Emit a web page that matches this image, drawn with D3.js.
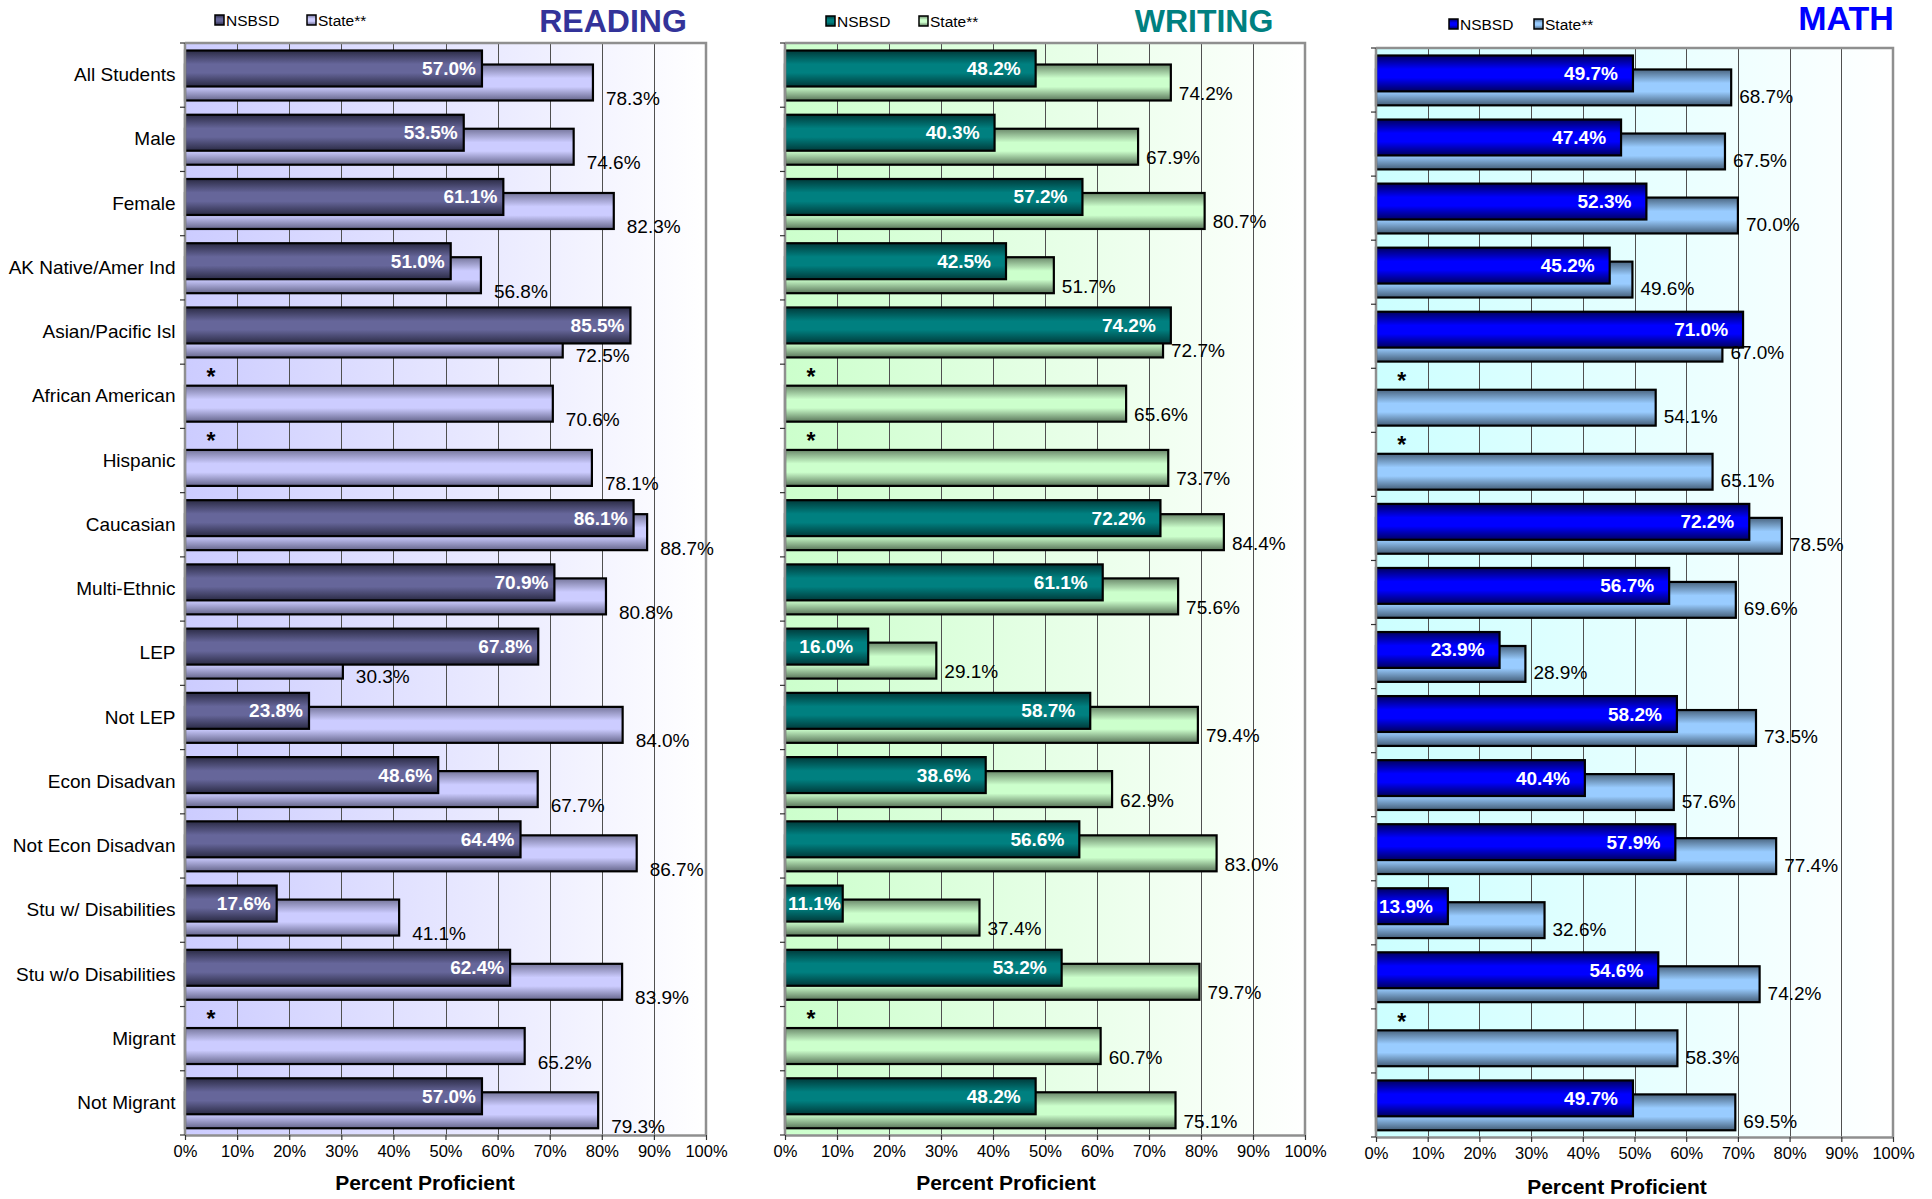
<!DOCTYPE html>
<html><head><meta charset="utf-8">
<script src="https://cdn.jsdelivr.net/npm/d3@7"></script>
<style>
body{margin:0;background:#fff}
svg{display:block}
text{font-family:"Liberation Sans",Arial,sans-serif}
</style>
</head><body>
<svg id="chart" width="1932" height="1199"></svg>
<script>
// ---------------- DATA ----------------
const categories = ["All Students","Male","Female","AK Native/Amer Ind","Asian/Pacific Isl",
  "African American","Hispanic","Caucasian","Multi-Ethnic","LEP","Not LEP","Econ Disadvan",
  "Not Econ Disadvan","Stu w/ Disabilities","Stu w/o Disabilities","Migrant","Not Migrant"];
const seriesNames = ["NSBSD","State**"];
const readingNSBSD = [57.0,53.5,61.1,51.0,85.5,null,null,86.1,70.9,67.8,23.8,48.6,64.4,17.6,62.4,null,57.0];
const readingState = [78.3,74.6,82.3,56.8,72.5,70.6,78.1,88.7,80.8,30.3,84.0,67.7,86.7,41.1,83.9,65.2,79.3];
const writingNSBSD = [48.2,40.3,57.2,42.5,74.2,null,null,72.2,61.1,16.0,58.7,38.6,56.6,11.1,53.2,null,48.2];
const writingState = [74.2,67.9,80.7,51.7,72.7,65.6,73.7,84.4,75.6,29.1,79.4,62.9,83.0,37.4,79.7,60.7,75.1];
const mathNSBSD = [49.7,47.4,52.3,45.2,71.0,null,null,72.2,56.7,23.9,58.2,40.4,57.9,13.9,54.6,null,49.7];
const mathState = [68.7,67.5,70.0,49.6,67.0,54.1,65.1,78.5,69.6,28.9,73.5,57.6,77.4,32.6,74.2,58.3,69.5];
const xTicks = [0,10,20,30,40,50,60,70,80,90,100];
const axisTitle = "Percent Proficient";
const missingMark = "*";

// ---------------- LAYOUT / STYLE ----------------
const panels = [
  {id:"r", title:"READING", titleColor:"#333399", nsbsd:readingNSBSD, state:readingState,
   left:185, right:706, top:43, bottom:1135, showCats:true,
   titleX:613, titleY:21, titleSize:32, legendX:215, legendY:20, legendGap:92,
   axisTitleX:425, axisTitleY:1182,
   bg:"#ccccff", n:["#2b2b45","#66669a","#2b2b45"], s:["#76769c","#ccccff","#66668c"],
   inDx:6, outDx:13, outDy:16},
  {id:"w", title:"WRITING", titleColor:"#008080", nsbsd:writingNSBSD, state:writingState,
   left:785, right:1305, top:43, bottom:1135, showCats:false,
   titleX:1204, titleY:21, titleSize:32, legendX:826, legendY:21, legendGap:93,
   axisTitleX:1006, axisTitleY:1182,
   bg:"#ccffcc", n:["#003a3a","#008080","#003a3a"], s:["#6a886a","#ccffcc","#5a765a"],
   inDx:15, outDx:8, outDy:11},
  {id:"m", title:"MATH", titleColor:"#0000ff", nsbsd:mathNSBSD, state:mathState,
   left:1376, right:1893, top:48, bottom:1137, showCats:false,
   titleX:1846, titleY:18, titleSize:34, legendX:1449, legendY:24, legendGap:85,
   axisTitleX:1617, axisTitleY:1186,
   bg:"#ccffff", n:["#000060","#0000ff","#000060"], s:["#4a6580","#99ccff","#445e78"],
   inDx:15, outDx:8, outDy:9}
];

const svg = d3.select("#chart");
const defs = svg.append("defs");

function vGrad(id, c){
  const g = defs.append("linearGradient").attr("id",id).attr("x1",0).attr("x2",0).attr("y1",0).attr("y2",1);
  [[0,c[0]],[0.38,c[1]],[0.62,c[1]],[1,c[2]]].forEach(([o,col])=>g.append("stop").attr("offset",o).attr("stop-color",col));
}
function hGrad(id, c){
  const g = defs.append("linearGradient").attr("id",id).attr("x1",0).attr("x2",1).attr("y1",0).attr("y2",0);
  g.append("stop").attr("offset",0).attr("stop-color",c);
  g.append("stop").attr("offset",1).attr("stop-color","#ffffff");
}

panels.forEach(p=>{
  vGrad(p.id+"n", p.n); vGrad(p.id+"s", p.s); hGrad(p.id+"bg", p.bg);

  const x = d3.scaleLinear().domain([0,100]).range([p.left,p.right]);
  const y = d3.scaleBand().domain(categories).range([p.top,p.bottom]).padding(0);
  const bw = y.bandwidth();
  const g = svg.append("g");

  // plot background
  g.append("rect").attr("x",p.left).attr("y",p.top).attr("width",p.right-p.left).attr("height",p.bottom-p.top)
    .attr("fill",`url(#${p.id}bg)`);

  // gridlines
  g.append("g").selectAll("line").data(xTicks.filter(t=>t>0&&t<100)).join("line")
    .attr("x1",d=>Math.round(x(d))+0.5).attr("x2",d=>Math.round(x(d))+0.5)
    .attr("y1",p.top).attr("y2",p.bottom).attr("stroke","#505050").attr("stroke-width",1);

  // plot border (top & right)
  g.append("path").attr("d",`M${p.left},${p.top}H${p.right}V${p.bottom}`)
    .attr("fill","none").attr("stroke","#8f8f8f").attr("stroke-width",2.5);

  const rows = categories.map((c,i)=>({c, n:p.nsbsd[i], s:p.state[i]}));

  // state bars
  g.append("g").selectAll("rect").data(rows).join("rect")
    .attr("x",x(0)).attr("y",d=>y(d.c)+0.335*bw)
    .attr("width",d=>x(d.s)-x(0)).attr("height",0.56*bw)
    .attr("fill",`url(#${p.id}s)`).attr("stroke","#000").attr("stroke-width",2.2);

  // NSBSD bars
  g.append("g").selectAll("rect").data(rows.filter(d=>d.n!=null)).join("rect")
    .attr("x",x(0)).attr("y",d=>y(d.c)+0.117*bw)
    .attr("width",d=>x(d.n)-x(0)).attr("height",0.56*bw)
    .attr("fill",`url(#${p.id}n)`).attr("stroke","#000").attr("stroke-width",2.2);

  // NSBSD labels (kept inside the bar)
  const nl = g.append("g").selectAll("text").data(rows.filter(d=>d.n!=null)).join("text")
    .attr("y",d=>y(d.c)+0.117*bw+0.28*bw)
    .attr("text-anchor","end").attr("dominant-baseline","central")
    .attr("font-size",19).attr("font-weight","bold").attr("fill","#fff")
    .text(d=>d.n.toFixed(1)+"%");
  nl.each(function(d){
    const w = this.getComputedTextLength();
    d3.select(this).attr("x", Math.max(x(d.n)-p.inDx, p.left+3+w));
  });

  // missing marks
  g.append("g").selectAll("text").data(rows.filter(d=>d.n==null)).join("text")
    .attr("x",x(5)).attr("y",d=>y(d.c)+0.12*bw+13)
    .attr("text-anchor","middle").attr("font-size",23).attr("font-weight","bold").attr("fill","#000")
    .text(missingMark);

  // state labels
  g.append("g").selectAll("text").data(rows).join("text")
    .attr("x",d=>x(d.s)+p.outDx).attr("y",d=>y(d.c)+0.335*bw+0.28*bw+p.outDy)
    .attr("dominant-baseline","central").attr("font-size",19).attr("fill","#000")
    .text(d=>d.s.toFixed(1)+"%");

  // x axis
  const xa = g.append("g").attr("transform",`translate(0,${p.bottom})`)
    .call(d3.axisBottom(x).tickValues(xTicks).tickFormat(d=>d+"%").tickSize(5).tickSizeOuter(0));
  xa.select(".domain").attr("stroke","#8f8f8f").attr("stroke-width",2.5);
  xa.selectAll(".tick line").attr("stroke","#333").attr("stroke-width",1.2);
  xa.selectAll(".tick text").attr("font-size",16.5).attr("fill","#000").attr("dy","0.85em")
    .attr("font-family","'Liberation Sans',Arial,sans-serif");

  // y axis line + boundary ticks
  g.append("line").attr("x1",p.left).attr("x2",p.left).attr("y1",p.top).attr("y2",p.bottom)
    .attr("stroke","#8f8f8f").attr("stroke-width",2.5);
  g.append("g").selectAll("line").data(d3.range(categories.length+1)).join("line")
    .attr("x1",p.left-5).attr("x2",p.left).attr("y1",i=>p.top+i*bw).attr("y2",i=>p.top+i*bw)
    .attr("stroke","#333").attr("stroke-width",1.2);

  if(p.showCats){
    const ya = g.append("g").attr("transform",`translate(${p.left},0)`)
      .call(d3.axisLeft(y).tickSize(0).tickPadding(9.5));
    ya.select(".domain").remove();
    ya.selectAll(".tick text").attr("font-size",19).attr("fill","#000")
      .attr("font-family","'Liberation Sans',Arial,sans-serif");
  }

  // axis title
  g.append("text").attr("x",p.axisTitleX).attr("y",p.axisTitleY).attr("text-anchor","middle")
    .attr("dominant-baseline","central").attr("font-size",21).attr("font-weight","bold").attr("fill","#000")
    .text(axisTitle);

  // panel title
  g.append("text").attr("x",p.titleX).attr("y",p.titleY).attr("text-anchor","middle")
    .attr("dominant-baseline","central").attr("font-size",p.titleSize).attr("font-weight","bold")
    .attr("fill",p.titleColor).text(p.title);

  // legend
  const lg = g.append("g");
  seriesNames.forEach((nm,i)=>{
    const lx = p.legendX + i*p.legendGap;
    lg.append("rect").attr("x",lx).attr("y",p.legendY-5).attr("width",9).attr("height",10)
      .attr("fill",`url(#${p.id}${i===0?"n":"s"})`).attr("stroke","#000").attr("stroke-width",1.5);
    lg.append("text").attr("x",lx+11).attr("y",p.legendY).attr("dominant-baseline","central")
      .attr("font-size",15.5).attr("fill","#000").text(nm);
  });
});
</script>
</body></html>
